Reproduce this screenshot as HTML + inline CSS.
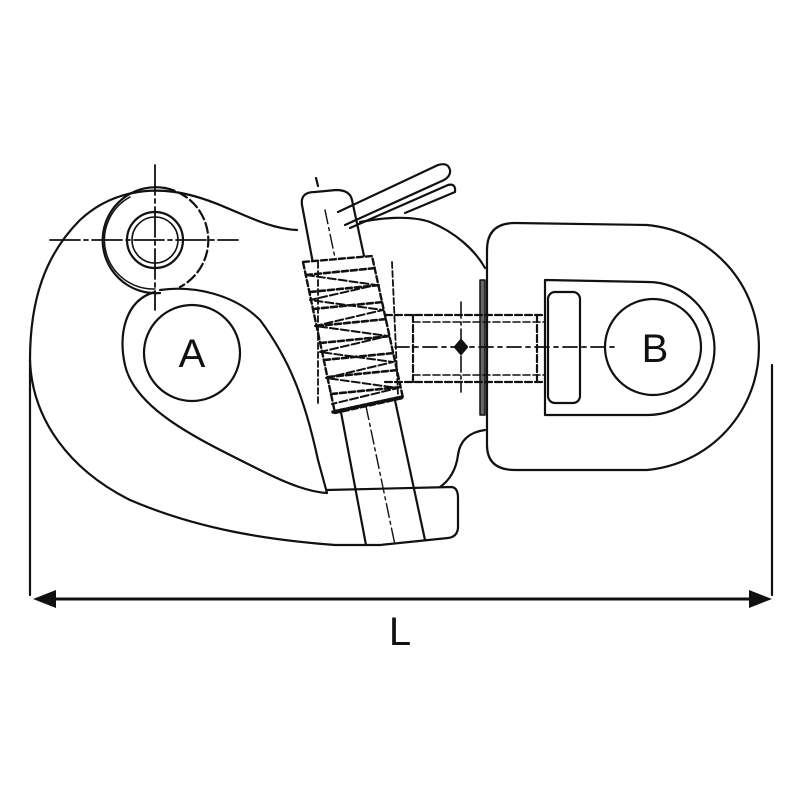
<!DOCTYPE html>
<html><head><style>html,body{margin:0;padding:0;background:#fff;}svg{display:block}</style></head>
<body>
<svg width="800" height="800" viewBox="0 0 800 800" xmlns="http://www.w3.org/2000/svg" fill="none" stroke="#111" stroke-width="2.2" stroke-linecap="round" stroke-linejoin="round">
<!-- outer hook body -->
<path d="M297,230 C260,228 230,205 190,195 C150,185 110,192 80,220 C45,255 30,300 30,360 C32,420 70,470 130,500 C200,530 270,540 335,545 L380,545"/>
<!-- eye ring -->
<circle cx="155" cy="240" r="28"/>
<circle cx="155" cy="240" r="23" stroke-width="1.6"/>
<path d="M165,188 A53,53 0 1 0 160,293"/>
<path d="M130,197 A49,49 0 0 0 155,289" stroke-width="1.5"/>
<path d="M165,188 A53,53 0 0 1 180,287" stroke-dasharray="10,4"/>
<!-- centerlines of eye -->
<path d="M50,240 L238,240" stroke-width="1.8" stroke-dasharray="30,4,4,4"/>
<path d="M155,165 L155,310" stroke-width="1.8" stroke-dasharray="30,4,4,4"/>
<!-- teardrop hole -->
<path d="M155,292 C125,300 118,335 125,365 C135,410 200,440 260,470 C290,485 310,492 327,493 L318,460 C305,400 290,360 260,320 C235,295 195,285 160,290"/>
<circle cx="192" cy="353" r="48"/>
<text x="192" y="367" font-family="Liberation Sans, sans-serif" font-size="40" fill="#111" stroke="none" text-anchor="middle">A</text>
<!-- right body curve -->
<path d="M360,222 C380,218 410,215 430,222 C455,232 475,250 485,268"/>
<path d="M485,430 C470,432 460,440 458,455 C456,470 450,480 440,487"/>
<!-- lever block -->
<path d="M327,490 L452,487 Q458,488 458,498 L458,528 Q457,537 448,538 L380,545"/>
<!-- pin -->
<path d="M302,205 L366,545"/>
<path d="M352,200 L425,540"/>
<path d="M302,205 Q300,192 315,192 L336,190 Q350,190 352,200"/>
<path d="M318,186 L316,178" />
<path d="M325,210 L395,545" stroke-width="1.4" stroke-dasharray="14,4,3,4"/>
<!-- spring -->
<path d="M303,262 L372,256 L403,398 L335,413 Z" fill="#fff" stroke-width="2.4" stroke-dasharray="6,3"/>
<g stroke-width="2.6" stroke-dasharray="6,3">
<path d="M306,275 L376,268 M310,292 L380,285 M313,309 L383,302 M317,326 L387,319 M320,343 L391,336 M324,360 L394,353 M328,377 L398,370 M331,394 L401,387"/>
<path d="M318,262 L318,405 M392,262 L398,395" stroke-width="1.8"/>
</g>
<path d="M306,275 L376,285 L310,300 L383,310 L315,326 L388,336 L320,352 L393,362 L326,378 L398,388 L332,404" stroke-width="2" stroke-dasharray="8,3"/>
<path d="M333,412 L402,397" stroke-width="3.5" stroke-dasharray="5,2"/>
<!-- handle -->
<path d="M338,212 L438,165 Q448,162 450,170 Q451,176 444,180 L345,225"/>
<path d="M350,228 L448,185 Q456,183 455,192 L405,213"/>
<!-- swivel outer D -->
<path d="M487,250 Q487,223 515,223 L647,225 A123,123 0 0 1 647,470 L515,470 Q487,470 487,445 Z"/>
<!-- inner D -->
<path d="M545,280 L648,282 A66,66 0 0 1 648,415 L545,415 Z"/>
<rect x="548" y="292" width="32" height="111" rx="7"/>
<circle cx="653" cy="347" r="48"/>
<text x="655" y="362" font-family="Liberation Sans, sans-serif" font-size="40" fill="#111" stroke="none" text-anchor="middle">B</text>
<!-- plate -->
<rect x="480" y="280" width="5" height="135" fill="#666" stroke-width="1.5"/>
<!-- shaft -->
<g stroke-dasharray="7,3">
<path d="M385,315 L545,315 M385,382 L545,382"/>
<path d="M413,315 L413,382 M537,315 L537,382"/>
<path d="M413,322 L545,322 M413,375 L545,375" stroke-width="1.6"/>
</g>
<path d="M395,347 L615,347" stroke-width="1.8" stroke-dasharray="14,5,4,5"/>
<path d="M461,302 L461,392" stroke-width="1.6" stroke-dasharray="16,4,3,4"/>
<path d="M461,340 L467,347 L461,354 L455,347 Z" fill="#111"/>
<!-- extensions -->
<path d="M772,365 L772,595"/>
<path d="M30,360 L30,595"/>
<!-- dimension -->
<path d="M48,599 L755,599" stroke-width="3"/>
<path d="M33,599 L56,590 L56,608 Z" fill="#111" stroke="none"/>
<path d="M772,599 L749,590 L749,608 Z" fill="#111" stroke="none"/>
<text x="400" y="645" font-family="Liberation Sans, sans-serif" font-size="40" fill="#111" stroke="none" text-anchor="middle">L</text>
</svg>
</body></html>
